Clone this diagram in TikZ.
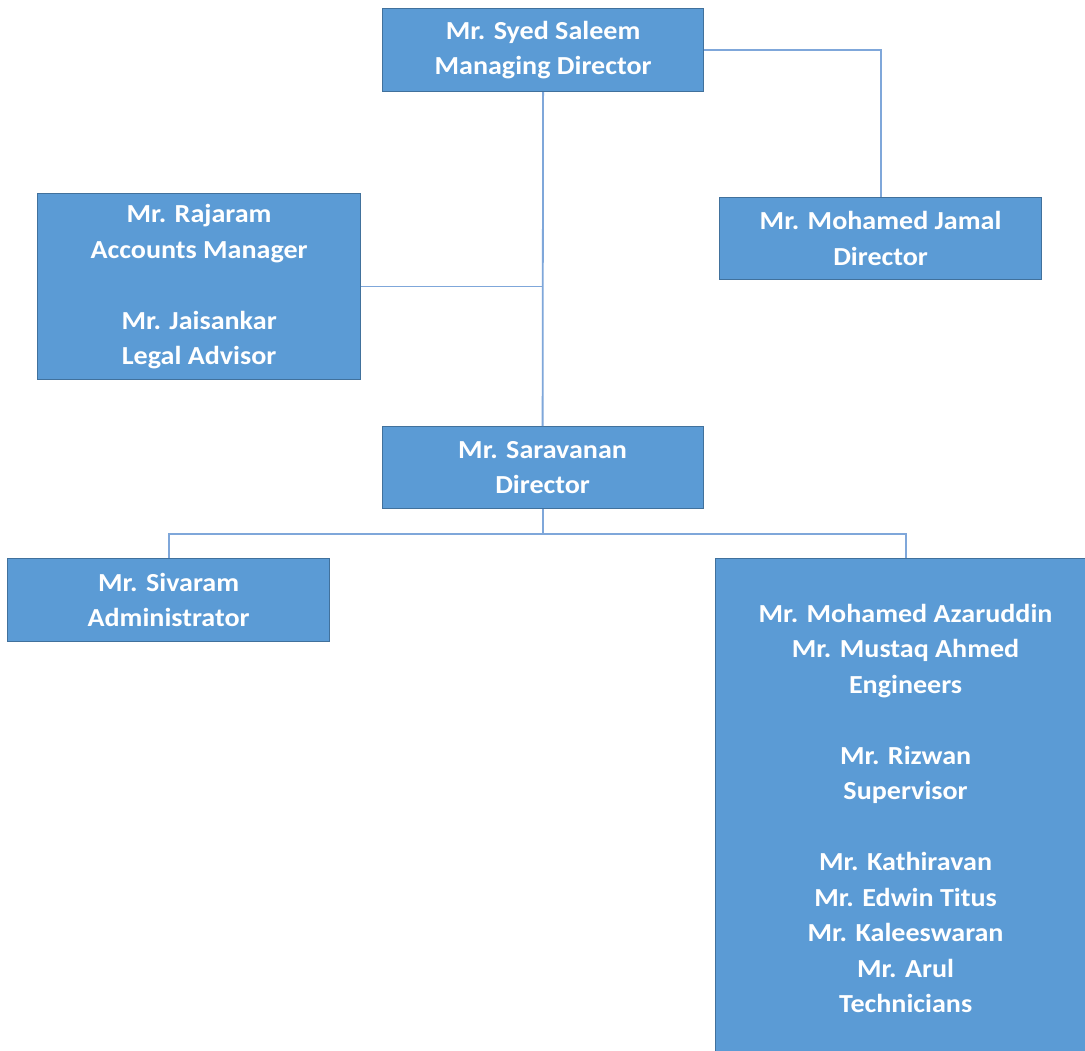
\documentclass[tikz,border=0pt]{standalone}
\usepackage{fontspec}
\setmainfont{Carlito}[FakeStretch=1.08]
\definecolor{boxfill}{HTML}{5B9BD5}
\definecolor{boxline}{HTML}{41719C}
\definecolor{conn}{HTML}{7FA7DA}
\begin{document}
\begin{tikzpicture}[x=1pt,y=-1pt,
  box/.style={draw=boxline, line width=1.2pt, fill=boxfill, text=white,
    font=\fontsize{26}{35.5}\selectfont\bfseries, align=center,
    inner sep=0pt, anchor=north west},
  link/.style={draw=conn, line width=1.8pt}]
\useasboundingbox (0,0) rectangle (1085,1051);
\clip (0,0) rectangle (1085,1051);
\fill[white] (0,0) rectangle (1085,1051);
\node[box, minimum width=321pt, minimum height=83pt] (top) at (382,8)
  {Mr. Syed Saleem\\Managing Director};
\node[box, minimum width=322pt, minimum height=82pt] (jam) at (719,197)
  {Mr. Mohamed Jamal\\Director};
\node[box, minimum width=323pt, minimum height=186pt] (raj) at (37,193)
  {Mr. Rajaram\\Accounts Manager\\[35.5pt]Mr. Jaisankar\\Legal Advisor};
\node[box, minimum width=321pt, minimum height=82pt] (sar) at (381.5,426)
  {Mr. Saravanan\\Director};
\node[box, minimum width=322pt, minimum height=83pt] (siv) at (7,558)
  {Mr. Sivaram\\Administrator};
\node[box, minimum width=380pt, minimum height=500pt] (eng) at (715,558)
  {Mr. Mohamed Azaruddin\\Mr. Mustaq Ahmed\\Engineers\\[35.5pt]Mr. Rizwan\\Supervisor\\[35.5pt]Mr. Kathiravan\\Mr. Edwin Titus\\Mr. Kaleeswaran\\Mr. Arul\\Technicians};
\draw[link] (top.south) -- (sar.north);
\draw[link] (raj.east) -- (raj.east -| top.south);
\draw[link] (top.east) -| (jam.north);
\coordinate (split) at ([yshift=-25pt]sar.south);
\draw[link] (sar.south) -- (split);
\draw[link] (siv.north) |- (split) -| (eng.north);
\end{tikzpicture}
\end{document}
